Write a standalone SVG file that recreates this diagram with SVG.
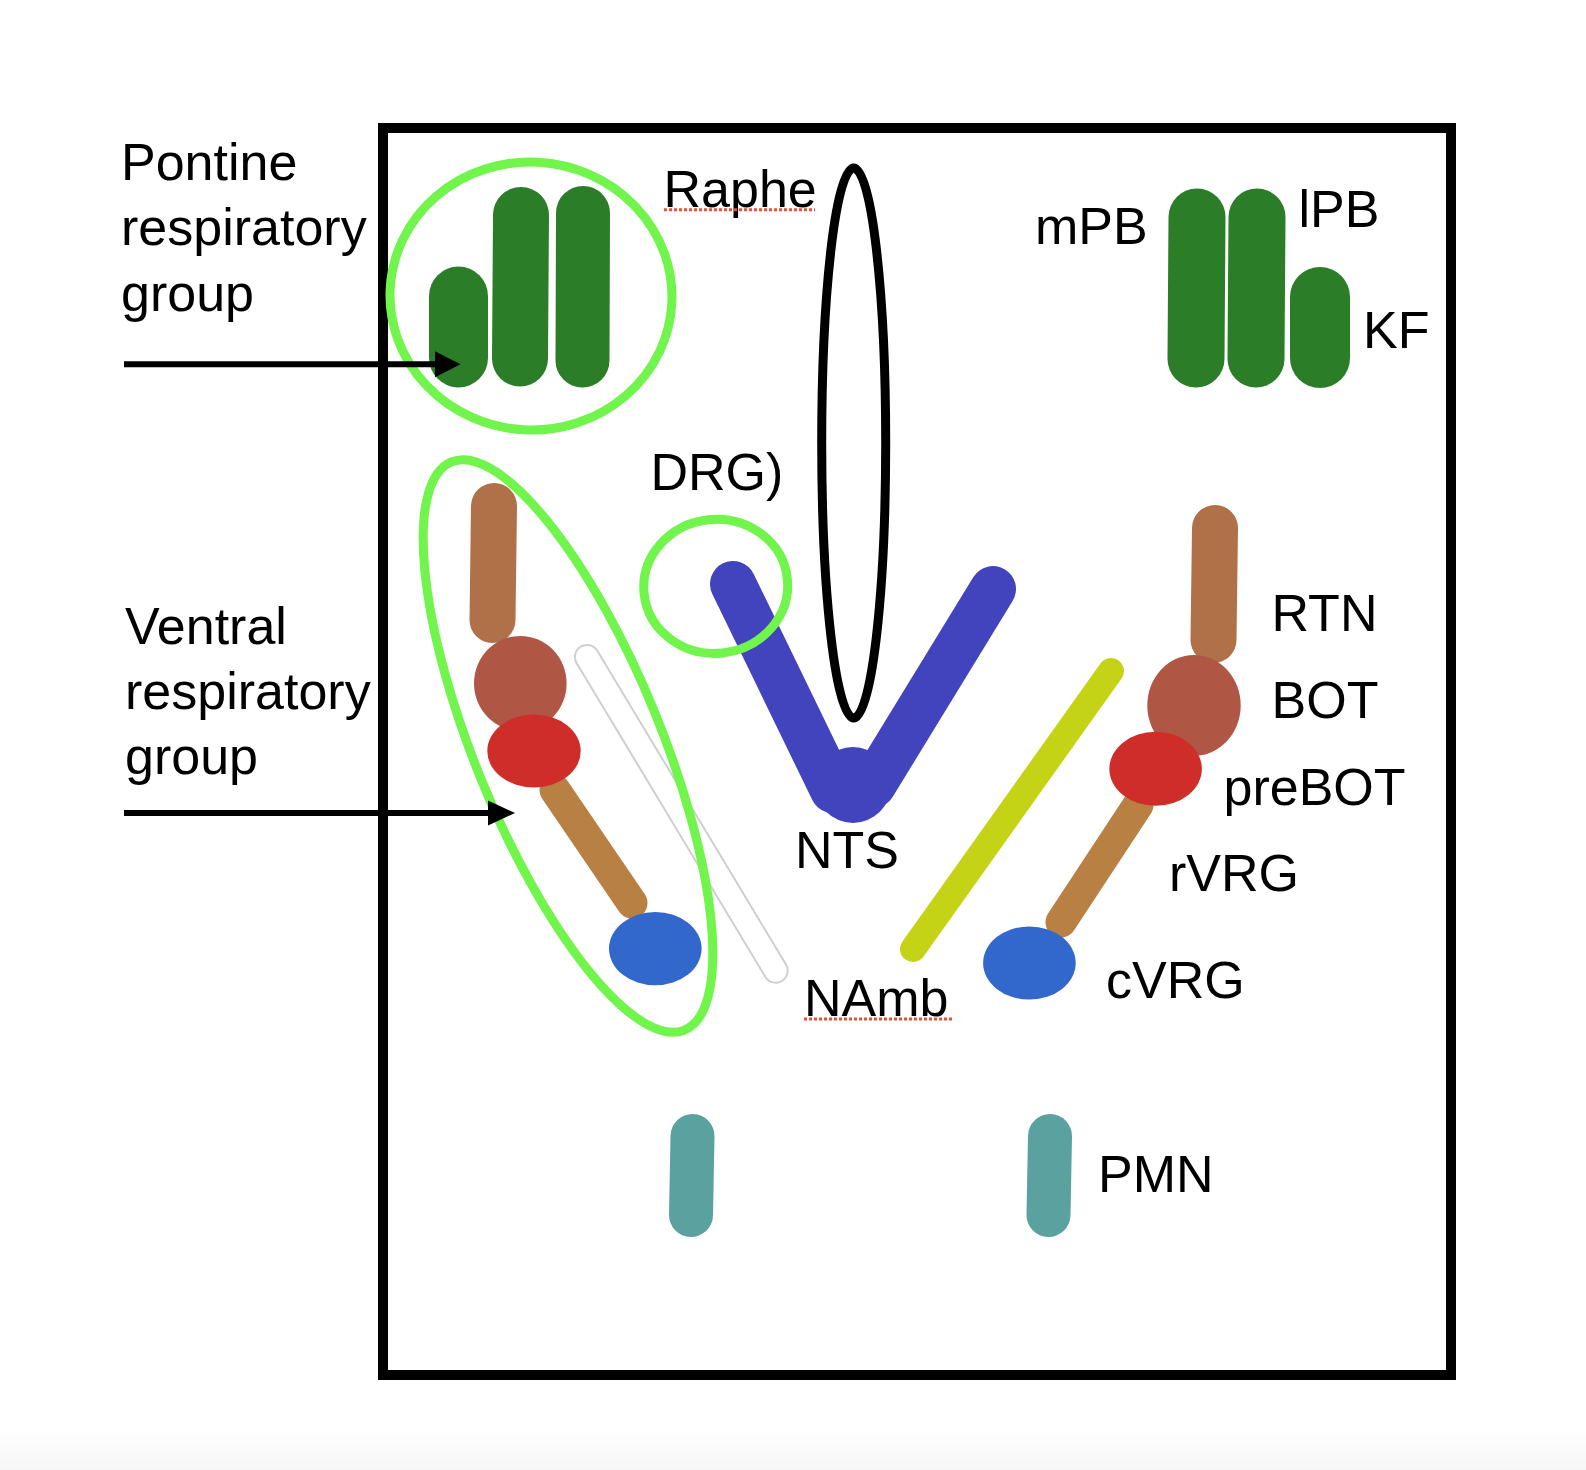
<svg xmlns="http://www.w3.org/2000/svg" width="1586" height="1470" viewBox="0 0 1586 1470">
<style>
.lbl{font-family:"Liberation Sans",Arial,Helvetica,sans-serif;font-size:52px;fill:#000}
.ring{fill:none;stroke:#71f44b;stroke-width:9}
.pg{stroke:#2c7d28;stroke-linecap:round;fill:none}
.rtn{stroke:#b07149;stroke-width:46;stroke-linecap:round;fill:none}
.rvrg{stroke:#b98043;stroke-width:31;stroke-linecap:round;fill:none}
.bot{fill:#b05645}
.pre{fill:#cf2d2a}
.cvrg{fill:#3268cc}
.pmn{stroke:#5aa19f;stroke-width:44;stroke-linecap:round;fill:none}
.nts{stroke:#4244bd;stroke-width:46;stroke-linecap:round;fill:none}
.spell{stroke:#e8503a;stroke-width:3;stroke-dasharray:3 2;fill:none}
.conn{stroke:#000;stroke-width:6;fill:none}
</style>
<defs>
<linearGradient id="bg" x1="0" y1="0" x2="0" y2="1">
<stop offset="0" stop-color="#ffffff"/>
<stop offset="1" stop-color="#f6f6f6"/>
</linearGradient>
</defs>
<rect x="0" y="0" width="1586" height="1470" fill="#fff"/>
<rect x="0" y="1428" width="1586" height="42" fill="url(#bg)"/>
<rect id="frame" x="383" y="128" width="1068" height="1247" fill="none" stroke="#000" stroke-width="10"/>

<g id="pontine-label">
<text class="lbl" x="121" y="179.5">Pontine</text>
<text class="lbl" x="121" y="245">respiratory</text>
<text class="lbl" x="121" y="310.5">group</text>
</g>
<g id="ventral-label">
<text class="lbl" x="125" y="643.5">Ventral</text>
<text class="lbl" x="125" y="708.5">respiratory</text>
<text class="lbl" x="125" y="773.5">group</text>
</g>

<g id="pontine-left">
<line class="pg" x1="458.5" y1="296" x2="458.5" y2="358" stroke-width="59"/>
<line class="pg" x1="521" y1="215" x2="520" y2="358.5" stroke-width="56"/>
<line class="pg" x1="583" y1="213" x2="582.5" y2="360.5" stroke-width="54"/>
</g>
<g id="pontine-group-ring">
<ellipse class="ring" cx="531" cy="296" rx="141" ry="134" transform="rotate(3 531 296)" stroke-width="8"/>
</g>

<g id="pontine-right">
<line class="pg" x1="1197" y1="217" x2="1196" y2="359" stroke-width="57"/>
<line class="pg" x1="1257" y1="217" x2="1256" y2="359" stroke-width="57"/>
<line class="pg" x1="1320" y1="297" x2="1320" y2="358" stroke-width="60"/>
<text class="lbl" x="1035" y="244.3">mPB</text>
<text class="lbl" x="1298.5" y="227.3">lPB</text>
<text class="lbl" x="1363" y="347.7">KF</text>
</g>

<g id="raphe">
<ellipse cx="853.7" cy="443" rx="32" ry="275" fill="none" stroke="#000" stroke-width="9"/>
<text class="lbl" x="663.5" y="206.5">Raphe</text>
<line class="spell" x1="664" y1="209.8" x2="815" y2="209.8"/>
</g>

<g id="nts">
<line class="nts" x1="733" y1="584" x2="833" y2="790"/>
<line class="nts" x1="993" y1="589" x2="873" y2="785"/>
<circle cx="853" cy="785" r="38" fill="#4244bd"/>
<text class="lbl" x="795" y="867.5">NTS</text>
</g>

<g id="drg">
<ellipse class="ring" cx="715.7" cy="586.3" rx="72" ry="67" transform="rotate(-6 715.7 586.3)"/>
<text class="lbl" x="650.5" y="489.8">DRG)</text>
</g>

<g id="vrg-left">
<line class="rtn" x1="494" y1="506" x2="492.5" y2="620"/>
<line class="rvrg" x1="555" y1="790" x2="632" y2="903"/>
<ellipse class="bot" cx="520.3" cy="683.4" rx="46.3" ry="47.5"/>
<ellipse class="pre" cx="534" cy="751" rx="46.7" ry="36.5"/>
<ellipse class="cvrg" cx="655.3" cy="948.6" rx="46.3" ry="36.7"/>
</g>

<g id="namb-left">
<path d="M597.3,650.8 L786,964.5 A12,12 0 0 1 765.4,976.9 L576.7,663.2 A12,12 0 0 1 597.3,650.8 Z" fill="none" stroke="#cfcfcf" stroke-width="2"/>
</g>

<g id="vrg-group-ring">
<ellipse class="ring" cx="568" cy="746" rx="93" ry="307" transform="rotate(-22.3 568 746)"/>
</g>

<g id="namb">
<line x1="1111" y1="671" x2="913" y2="949" stroke="#c5d317" stroke-width="26" stroke-linecap="round"/>
<text class="lbl" x="804" y="1015.7">NAmb</text>
<line class="spell" x1="804" y1="1019" x2="953" y2="1019"/>
</g>

<g id="vrg-right">
<line class="rtn" x1="1215" y1="528" x2="1213.5" y2="640"/>
<line class="rvrg" x1="1138" y1="805" x2="1061" y2="922"/>
<ellipse class="bot" cx="1194" cy="705.4" rx="46.7" ry="50.4"/>
<ellipse class="pre" cx="1155.6" cy="768.8" rx="46.3" ry="37"/>
<ellipse class="cvrg" cx="1029.4" cy="963" rx="46.3" ry="36.6"/>
<text class="lbl" x="1271.5" y="630.7">RTN</text>
<text class="lbl" x="1271.5" y="717.5">BOT</text>
<text class="lbl" x="1223.5" y="805">preBOT</text>
<text class="lbl" x="1169" y="891.4">rVRG</text>
<text class="lbl" x="1106" y="997.9">cVRG</text>
</g>

<g id="pmn">
<line class="pmn" x1="692.5" y1="1136" x2="691" y2="1215"/>
<line class="pmn" x1="1050" y1="1136" x2="1048.5" y2="1215"/>
<text class="lbl" x="1098" y="1191.7">PMN</text>
</g>

<g id="connectors">
<line class="conn" x1="124" y1="364.3" x2="437" y2="364.3"/>
<polygon points="435,351.3 460.5,364.3 435,377.3" fill="#000"/>
<line class="conn" x1="124" y1="813" x2="490" y2="813"/>
<polygon points="488,800.5 515,813 488,825.5" fill="#000"/>
</g>
</svg>
